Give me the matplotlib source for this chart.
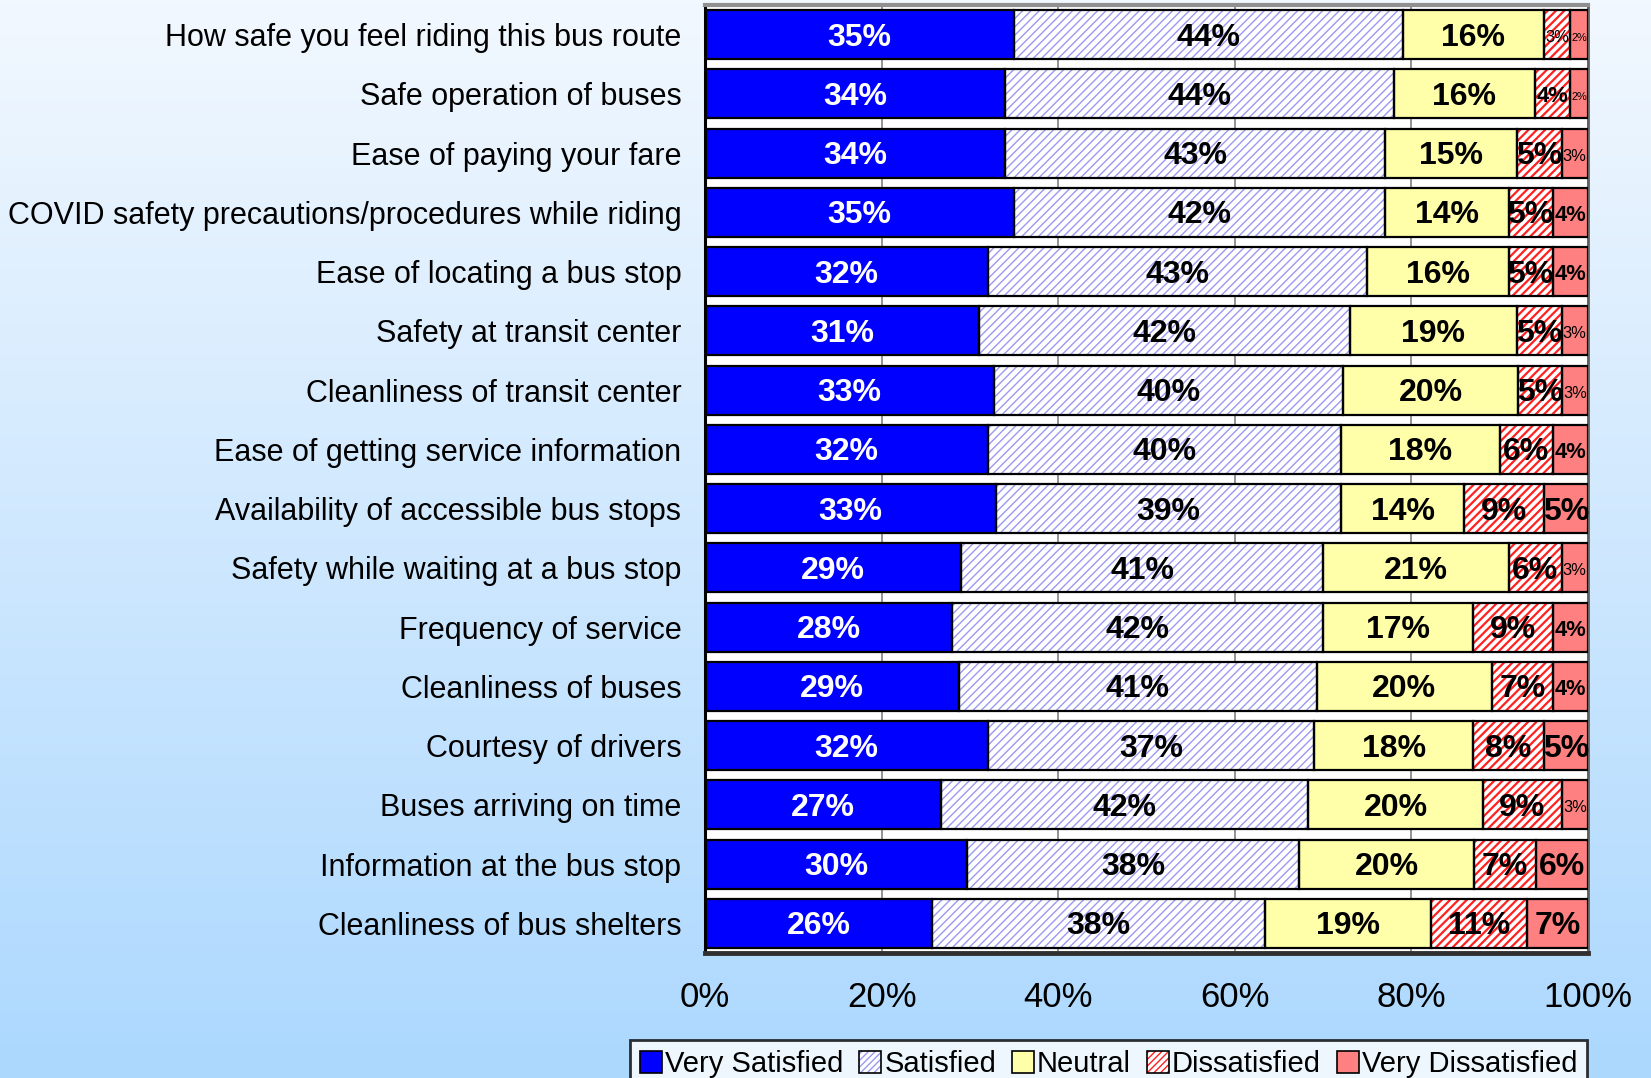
import numpy as np
import matplotlib
matplotlib.use("Agg")
import matplotlib.pyplot as plt
from matplotlib.patches import Patch
from matplotlib.colors import LinearSegmentedColormap
from matplotlib.legend_handler import HandlerTuple

plt.rcParams['font.family'] = ['Liberation Sans', 'DejaVu Sans']

categories = [
    "How safe you feel riding this bus route",
    "Safe operation of buses",
    "Ease of paying your fare",
    "COVID safety precautions/procedures while riding",
    "Ease of locating a bus stop",
    "Safety at transit center",
    "Cleanliness of transit center",
    "Ease of getting service information",
    "Availability of accessible bus stops",
    "Safety while waiting at a bus stop",
    "Frequency of service",
    "Cleanliness of buses",
    "Courtesy of drivers",
    "Buses arriving on time",
    "Information at the bus stop",
    "Cleanliness of bus shelters",
]

very_satisfied    = [35, 34, 34, 35, 32, 31, 33, 32, 33, 29, 28, 29, 32, 27, 30, 26]
satisfied         = [44, 44, 43, 42, 43, 42, 40, 40, 39, 41, 42, 41, 37, 42, 38, 38]
neutral           = [16, 16, 15, 14, 16, 19, 20, 18, 14, 21, 17, 20, 18, 20, 20, 19]
dissatisfied      = [3, 4, 5, 5, 5, 5, 5, 6, 9, 6, 9, 7, 8, 9, 7, 11]
very_dissatisfied = [2, 2, 3, 4, 4, 3, 3, 4, 5, 3, 4, 4, 5, 3, 6, 7]

series_names = ["Very Satisfied", "Satisfied", "Neutral", "Dissatisfied", "Very Dissatisfied"]
x_ticks = [0, 20, 40, 60, 80, 100]
x_tick_labels = ["0%", "20%", "40%", "60%", "80%", "100%"]

# segment styles: (face, hatch colour, hatch, hatch line width, label colour)
styles = [
    ("#0000ff", None, None, 0, "white"),
    ("white", "#9a9af2", "////", 1.0, "black"),
    ("#ffffaa", None, None, 0, "black"),
    ("white", "#ff2020", "////", 1.6, "black"),
    ("#ff8080", None, None, 0, "black"),
]

W, H = 1651, 1078
fig = plt.figure(figsize=(W / 100, H / 100), dpi=100)

# vertical background gradient
bg = fig.add_axes([0, 0, 1, 1], zorder=-10)
grad = np.linspace(0, 1, 256).reshape(-1, 1)
cmap = LinearSegmentedColormap.from_list("bg", ["#f2f8ff", "#acd8fe"])
bg.imshow(grad, aspect="auto", cmap=cmap, extent=[0, 1, 0, 1], origin="upper")
bg.set_axis_off()

ax = fig.add_axes([705 / W, 1 - 953 / H, 883 / W, 948 / H])
ax.set_facecolor("white")

data = np.array([very_satisfied, satisfied, neutral, dissatisfied, very_dissatisfied], dtype=float)
totals = data.sum(axis=0)
shares = data / totals * 100

n = len(categories)
y = np.arange(n)
bar_h = 0.83
left = np.zeros(n)
px_per_unit = 883 / 100.0

for k, (face, hcol, hatch, hlw, tcol) in enumerate(styles):
    widths = shares[k]
    if hatch:
        with plt.rc_context({'hatch.linewidth': hlw}):
            ax.barh(y, widths, left=left, height=bar_h, color=face,
                    edgecolor=hcol, hatch=hatch, linewidth=0, zorder=2)
    else:
        ax.barh(y, widths, left=left, height=bar_h, color=face, linewidth=0, zorder=2)
    ax.barh(y, widths, left=left, height=bar_h, facecolor="none",
            edgecolor="black", linewidth=1.6, zorder=3)
    for i in range(n):
        val = data[k, i]
        cx = left[i] + widths[i] / 2
        if val >= 5:
            fs, fw = 23, "bold"
        else:
            seg_px = widths[i] * px_per_unit
            fs = min(17, seg_px * 0.9 / 1.445 * 0.72)
            fw = "bold" if val >= 4 else "normal"
        ax.text(cx, y[i] + 0.05, f"{int(val)}%", ha="center", va="center",
                color=tcol, fontsize=fs, fontweight=fw, zorder=4)
    left = left + widths

ax.set_xlim(0, 100)
ax.set_ylim(n - 0.5, -0.5)
ax.set_yticks(y)
ax.set_yticklabels(categories, fontsize=22)
ax.set_xticks(x_ticks)
ax.set_xticklabels(x_tick_labels, fontsize=25)
ax.tick_params(axis="y", length=0, pad=17)
ax.tick_params(axis="x", length=0, pad=20)
ax.grid(axis="x", color="#808080", linewidth=1.2, zorder=1)
ax.set_axisbelow(True)

ax.spines["left"].set_linewidth(2.2)
ax.spines["left"].set_color("black")
ax.spines["bottom"].set_linewidth(3.5)
ax.spines["bottom"].set_color("#303030")
ax.spines["top"].set_linewidth(3)
ax.spines["top"].set_color("#909090")
ax.spines["right"].set_linewidth(2)
ax.spines["right"].set_color("#606060")

# legend keys: hatched squares get a black outline drawn on top
handles = []
for face, hcol, hatch, hlw, _ in styles:
    if hatch:
        handles.append((Patch(facecolor=face, edgecolor=hcol, hatch="/////", linewidth=0),
                        Patch(facecolor="none", edgecolor="black", linewidth=1.2)))
    else:
        handles.append(Patch(facecolor=face, edgecolor="black", linewidth=1.2))

leg = fig.legend(handles, series_names, loc="upper left",
                 bbox_to_anchor=(630 / W, 1 - 1040 / H), ncol=5,
                 fontsize=21, frameon=True, fancybox=False,
                 handlelength=0.75, handleheight=0.75, handletextpad=0.1,
                 columnspacing=0.55, borderpad=0.35, borderaxespad=0,
                 handler_map={tuple: HandlerTuple(ndivide=1, pad=0)})
leg.get_frame().set_edgecolor("black")
leg.get_frame().set_linewidth(2)
leg.get_frame().set_facecolor("white")

fig.savefig("out.png", dpi=100)
